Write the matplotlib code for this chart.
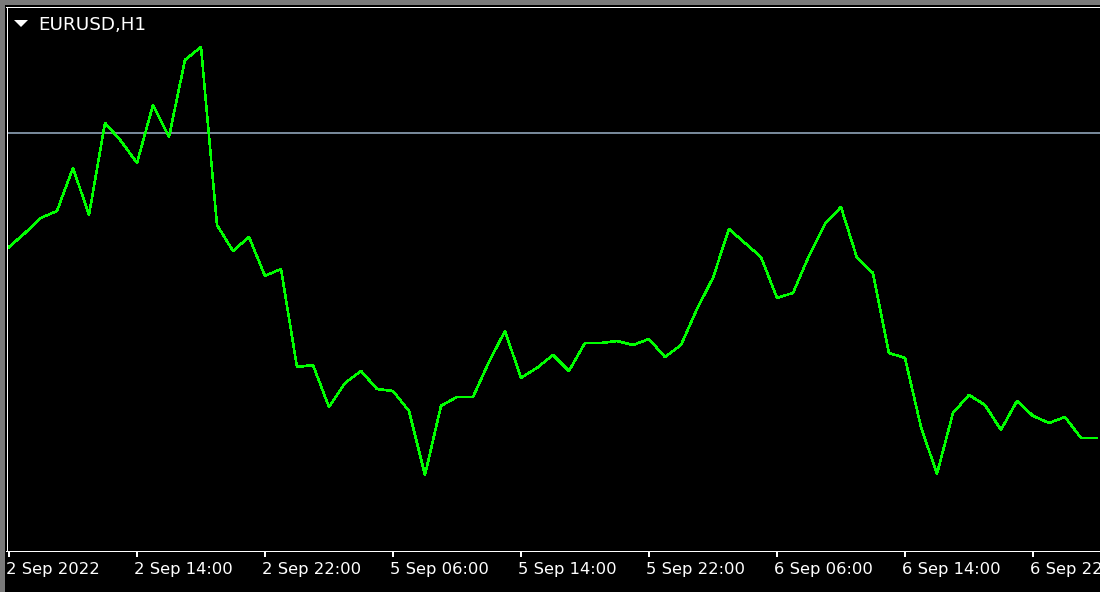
import matplotlib
matplotlib.use("Agg")
import matplotlib.pyplot as plt
from matplotlib.patches import Rectangle, Polygon
from matplotlib.transforms import ScaledTranslation

# ---- data (EURUSD H1 closes, one per bar) ----
closes = [
    0.99600, 0.99649, 0.99702, 0.99726, 0.99877, 0.99712, 1.00034, 0.99971,
    0.99894, 1.00097, 0.99985, 1.00255, 1.00300, 0.99677, 0.99586, 0.99635,
    0.99499, 0.99523, 0.99180, 0.99187, 0.99040, 0.99124, 0.99166, 0.99103,
    0.99096, 0.99026, 0.98802, 0.99044, 0.99075, 0.99075, 0.99198, 0.99306,
    0.99142, 0.99177, 0.99222, 0.99166, 0.99264, 0.99264, 0.99271, 0.99257,
    0.99278, 0.99215, 0.99257, 0.99383, 0.99492, 0.99663, 0.99614, 0.99565,
    0.99422, 0.99439, 0.99569, 0.99681, 0.99740, 0.99562, 0.99509, 0.99229,
    0.99212, 0.98970, 0.98806, 0.99019, 0.99082, 0.99047, 0.98960, 0.99061,
    0.99009, 0.98984, 0.99005, 0.98932, 0.98932,
]
tick_bars = [0, 8, 16, 24, 32, 40, 48, 56, 64]
tick_labels = ["2 Sep 2022", "2 Sep 14:00", "2 Sep 22:00", "5 Sep 06:00",
               "5 Sep 14:00", "5 Sep 22:00", "6 Sep 06:00", "6 Sep 14:00",
               "6 Sep 22:00"]
level = 1.00000
symbol = "EURUSD,H1"

W, H = 1100, 592
fig = plt.figure(figsize=(W / 100, H / 100), dpi=100, facecolor="black")

ax = fig.add_axes([6.5 / W, 41.5 / H, (W - 6.5) / W, (585.5 - 41.5) / H])
ax.set_facecolor("black")

x = list(range(len(closes)))
ax.axhline(level, color="#778899", lw=1.44, antialiased=False, zorder=1)
ax.plot(x, closes, color="#00ff00", lw=1.1, antialiased=False, zorder=2,
        solid_joinstyle="round")

ax.set_xlim(-0.156, 68.19)
ax.set_ylim(0.9853775, 1.0044175)

for side in ("left", "top", "bottom"):
    ax.spines[side].set_color("white")
    ax.spines[side].set_linewidth(0.72)
ax.spines["right"].set_visible(False)

ax.set_xticks(tick_bars)
ax.set_xticklabels(tick_labels)
ax.tick_params(axis="x", colors="white", length=4.32, width=1.44, pad=3.96,
               labelsize=11.8, direction="out")
ax.tick_params(axis="y", left=False, labelleft=False)
off = ScaledTranslation(-3 / 100, 0, fig.dpi_scale_trans)
for lbl in ax.get_xticklabels():
    lbl.set_ha("left")
    lbl.set_transform(lbl.get_transform() + off)

# window frame (gray strips top and left)
gray = "#7a7a7a"
fig.add_artist(Rectangle((0, 1 - 5 / H), 1, 5 / H, transform=fig.transFigure,
                         color=gray, lw=0))
fig.add_artist(Rectangle((0, 0), 5 / W, 1, transform=fig.transFigure,
                         color=gray, lw=0))

# symbol header with dropdown triangle
fig.add_artist(Polygon([(14 / W, 1 - 20 / H), (28 / W, 1 - 20 / H),
                        (21 / W, 1 - 27 / H)], closed=True,
                       transform=fig.transFigure, color="white", lw=0))
fig.text(38 / W, 1 - 16 / H, symbol, color="white", fontsize=13.2,
         ha="left", va="top")

fig.savefig("out.png", dpi=100, facecolor="black")
